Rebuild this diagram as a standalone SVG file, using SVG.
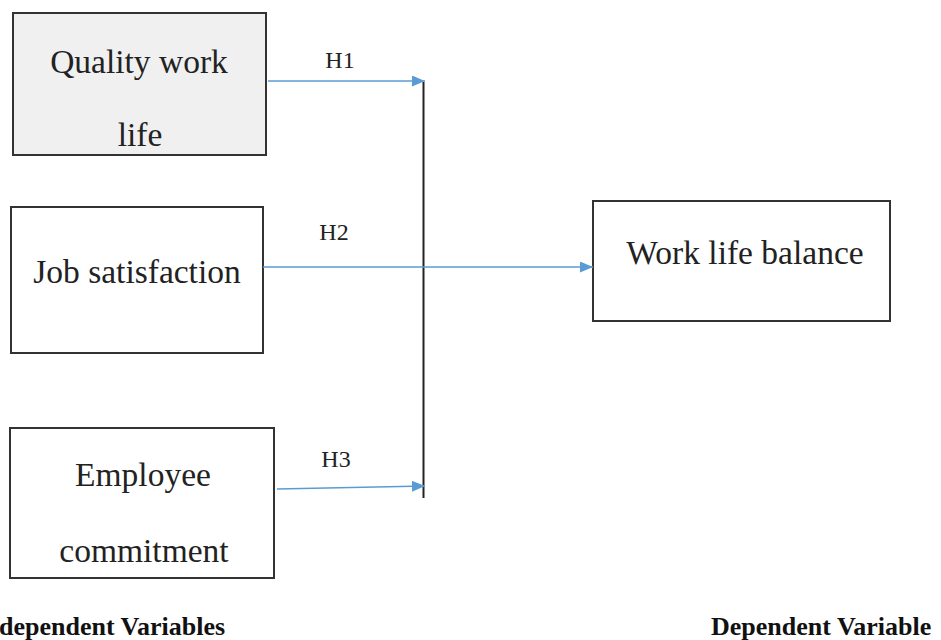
<svg xmlns="http://www.w3.org/2000/svg" width="941" height="640" viewBox="0 0 941 640">
<style>
.box{stroke:#333;stroke-width:2;}
.t{font-family:'Liberation Serif','Times New Roman',Tinos,'DejaVu Serif',serif;font-size:33.5px;fill:#222;text-anchor:middle;}
.h{font-family:'Liberation Serif','Times New Roman',Tinos,'DejaVu Serif',serif;font-size:24px;fill:#222;text-anchor:middle;}
.b{font-family:'Liberation Serif','Times New Roman',Tinos,'DejaVu Serif',serif;font-size:26px;font-weight:bold;fill:#111;}
.c{stroke:#5B9BD5;stroke-width:1.5;fill:none;}
</style>
<defs>
<marker id="ah" markerWidth="13" markerHeight="11" refX="13" refY="5.5" orient="auto" markerUnits="userSpaceOnUse">
<path d="M0,0 L13,5.5 L0,11 Z" fill="#5B9BD5"/>
</marker>
</defs>
<rect width="941" height="640" fill="#fff"/>
<g id="quality">
<rect class="box" x="13" y="13" width="253" height="142" fill="#f0f0f0"/>
<text class="t" x="139" y="73">Quality work</text>
<text class="t" x="140" y="146">life</text>
</g>
<g id="job">
<rect class="box" x="11" y="207" width="252" height="146" fill="#fff"/>
<text class="t" x="137" y="283">Job satisfaction</text>
</g>
<g id="employee">
<rect class="box" x="10" y="428" width="264" height="150" fill="#fff"/>
<text class="t" x="143" y="486">Employee</text>
<text class="t" x="144" y="562">commitment</text>
</g>
<g id="wlb">
<rect class="box" x="593" y="201" width="297" height="120" fill="#fff"/>
<text class="t" x="745" y="264">Work life balance</text>
</g>
<g id="connectors">
<line x1="423.5" y1="82" x2="423.5" y2="498" stroke="#222" stroke-width="2"/>
<line class="c" x1="268" y1="81" x2="425" y2="81" marker-end="url(#ah)"/>
<line class="c" x1="263" y1="267" x2="593" y2="267" marker-end="url(#ah)"/>
<line class="c" x1="277" y1="489" x2="425" y2="486" marker-end="url(#ah)"/>
<text class="h" x="340" y="68">H1</text>
<text class="h" x="334" y="240">H2</text>
<text class="h" x="336" y="467">H3</text>
</g>
<text class="b" x="-1" y="635">dependent Variables</text>
<text class="b" x="711" y="635">Dependent Variable</text>
</svg>
